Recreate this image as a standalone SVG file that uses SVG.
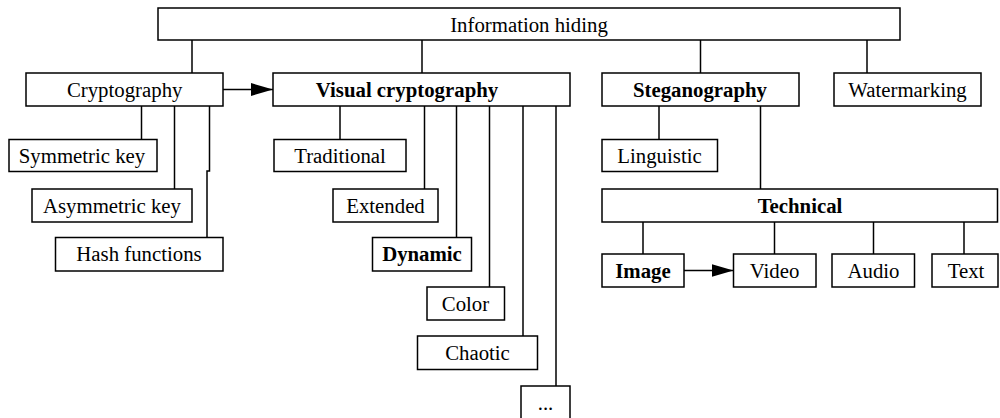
<svg xmlns="http://www.w3.org/2000/svg" width="1000" height="418" viewBox="0 0 1000 418">
<style>
rect.n{fill:#fff;stroke:#000;stroke-width:1.5}
text{font-family:"Liberation Serif","Times New Roman",serif;font-size:20.8px;fill:#000;text-anchor:middle}
text.b{font-weight:bold}
#connectors line,#connectors polyline{stroke:#000;stroke-width:1.5;fill:none}
</style>
<defs>
<marker id="ah" markerUnits="userSpaceOnUse" markerWidth="23" markerHeight="14" refX="22" refY="7" orient="auto">
<path d="M0,0.5 L22,7 L0,13.5 z" fill="#000"/>
</marker>
</defs>
<rect width="1000" height="418" fill="#fff"/>
<g id="connectors">
<line x1="192" y1="40" x2="192" y2="73"/>
<line x1="422" y1="40" x2="422" y2="73"/>
<line x1="700.5" y1="40" x2="700.5" y2="73"/>
<line x1="867" y1="40" x2="867" y2="73"/>
<line x1="141.5" y1="106" x2="141.5" y2="139.5"/>
<line x1="174.5" y1="106" x2="174.5" y2="189"/>
<polyline points="209.5,106 209.5,171 207,171 207,237.5"/>
<line x1="223" y1="89.5" x2="273" y2="89.5" marker-end="url(#ah)"/>
<line x1="340" y1="106" x2="340" y2="139.5"/>
<line x1="424.5" y1="106" x2="424.5" y2="189"/>
<line x1="456.5" y1="106" x2="456.5" y2="237.5"/>
<line x1="489.5" y1="106" x2="489.5" y2="287"/>
<line x1="523" y1="106" x2="523" y2="336"/>
<line x1="556" y1="106" x2="556" y2="386"/>
<line x1="659" y1="106" x2="659" y2="139.5"/>
<line x1="760.5" y1="106" x2="760.5" y2="189"/>
<line x1="643" y1="222" x2="643" y2="254"/>
<line x1="774.5" y1="222" x2="774.5" y2="254"/>
<line x1="873.5" y1="222" x2="873.5" y2="254"/>
<line x1="964" y1="222" x2="964" y2="254"/>
<line x1="684" y1="270.5" x2="733.5" y2="270.5" marker-end="url(#ah)"/>
</g>
<g id="info"><rect class="n" x="158" y="8" width="742" height="32"/><text x="529" y="31.5">Information hiding</text></g>
<g id="cryptography"><rect class="n" x="26" y="73" width="197" height="33"/><text x="124.7" y="96.5">Cryptography</text></g>
<g id="visual"><rect class="n" x="273" y="73" width="297" height="33"/><text class="b" x="407" y="96.5">Visual cryptography</text></g>
<g id="steganography"><rect class="n" x="602" y="73" width="197" height="33"/><text class="b" x="700" y="96.5">Steganography</text></g>
<g id="watermarking"><rect class="n" x="834" y="73" width="147" height="33"/><text x="907.5" y="96.5">Watermarking</text></g>
<g id="symmetric"><rect class="n" x="9" y="139.5" width="148" height="32"/><text x="82" y="162.5">Symmetric key</text></g>
<g id="asymmetric"><rect class="n" x="32" y="189" width="160" height="33"/><text x="112" y="212.5">Asymmetric key</text></g>
<g id="hash"><rect class="n" x="55.5" y="237.5" width="167.5" height="33.5"/><text x="139" y="261">Hash functions</text></g>
<g id="traditional"><rect class="n" x="274" y="139.5" width="132" height="32"/><text x="340" y="162.5">Traditional</text></g>
<g id="extended"><rect class="n" x="333" y="189" width="105" height="33"/><text x="385.5" y="212.5">Extended</text></g>
<g id="dynamic"><rect class="n" x="372.5" y="237.5" width="99" height="33.5"/><text class="b" x="422" y="261">Dynamic</text></g>
<g id="color"><rect class="n" x="427" y="287" width="77.5" height="33"/><text x="465.5" y="310.5">Color</text></g>
<g id="chaotic"><rect class="n" x="417.5" y="336" width="120" height="33.5"/><text x="477.5" y="359.5">Chaotic</text></g>
<g id="more"><rect class="n" x="521" y="386" width="49" height="40"/><text x="545.5" y="409.5">...</text></g>
<g id="linguistic"><rect class="n" x="602" y="139.5" width="115.5" height="32"/><text x="659.5" y="162.5">Linguistic</text></g>
<g id="technical"><rect class="n" x="602" y="189" width="395.5" height="33"/><text class="b" x="800" y="212.5">Technical</text></g>
<g id="image"><rect class="n" x="602" y="254" width="82" height="33"/><text class="b" x="643" y="277.5">Image</text></g>
<g id="video"><rect class="n" x="733.5" y="254" width="82.5" height="33"/><text x="774.5" y="277.5">Video</text></g>
<g id="audio"><rect class="n" x="832" y="254" width="82.5" height="33"/><text x="873.5" y="277.5">Audio</text></g>
<g id="text"><rect class="n" x="932" y="254" width="66" height="33"/><text x="966" y="277.5">Text</text></g>
</svg>
